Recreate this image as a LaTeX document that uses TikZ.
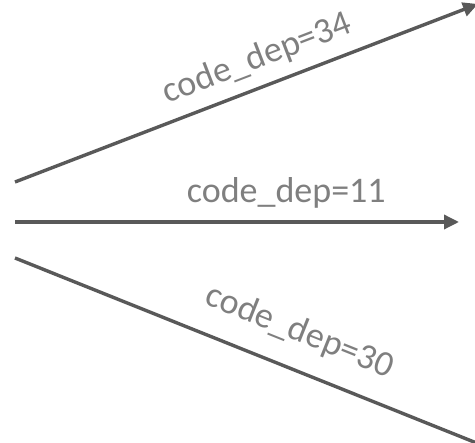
\documentclass[tikz,border=0pt]{standalone}
\usepackage{fontspec}
\setmainfont{Carlito}
\usetikzlibrary{arrows.meta}
\definecolor{edgegray}{HTML}{595959}
\definecolor{labelgray}{HTML}{7F7F7F}

\begin{document}
\begin{tikzpicture}
[x=1pt, y=-1pt,
 every node/.style={inner sep=0pt, text=labelgray, font=\fontsize{36}{40}\selectfont},
 dep/.style={line width=3.4pt, color=edgegray, -{Triangle[length=15pt, width=14pt]}}]
\useasboundingbox (0,0) rectangle (475,443);
\coordinate (src1) at (15,182);
\coordinate (src2) at (15,222);
\coordinate (src3) at (15,258);
\coordinate (dst1) at (478,4);
\coordinate (dst2) at (459,222);
\coordinate (dst3) at (494,450);
\draw [dep] (src1) -- (dst1) node (lab1) [pos=0.545, sloped, above=11pt] {code\_dep=34};
\draw [dep] (src2) -- (dst2) node (lab2) [pos=0.611, above=12pt] {code\_dep=11};
\draw [dep] (src3) -- (dst3) node (lab3) [pos=0.565, sloped, above=20pt] {code\_dep=30};
\end{tikzpicture}
\end{document}
